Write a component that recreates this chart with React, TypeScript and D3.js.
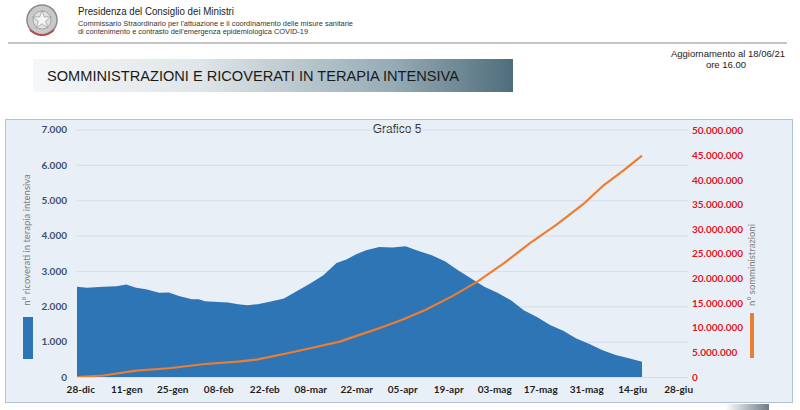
import React, { useEffect, useRef } from 'react';
import * as d3 from 'd3';

// ICU patients (ricoverati in terapia intensiva)
const icuDates = [
  '2020-12-27', '2020-12-30', '2021-01-04', '2021-01-08', '2021-01-11', '2021-01-14', '2021-01-17',
  '2021-01-21', '2021-01-24', '2021-01-27', '2021-01-31', '2021-02-02', '2021-02-04', '2021-02-08',
  '2021-02-11', '2021-02-14', '2021-02-17', '2021-02-20', '2021-02-24', '2021-02-28', '2021-03-04',
  '2021-03-08', '2021-03-12', '2021-03-16', '2021-03-19', '2021-03-22', '2021-03-25', '2021-03-29',
  '2021-04-02', '2021-04-06', '2021-04-10', '2021-04-14', '2021-04-18', '2021-04-22', '2021-04-26',
  '2021-04-30', '2021-05-04', '2021-05-08', '2021-05-12', '2021-05-16', '2021-05-20', '2021-05-24',
  '2021-05-28', '2021-06-01', '2021-06-05', '2021-06-09', '2021-06-13', '2021-06-17'
];
const icuValues = [
  2555, 2525, 2550, 2570, 2615, 2525, 2485,
  2385, 2390, 2290, 2200, 2200, 2145, 2120,
  2105, 2060, 2030, 2060, 2135, 2220, 2435,
  2645, 2880, 3225, 3320, 3470, 3585, 3680,
  3660, 3700, 3565, 3445, 3275, 3020, 2785,
  2550, 2380, 2175, 1890, 1700, 1470, 1305,
  1090, 930, 760, 620, 527, 432
];

// cumulative vaccine doses (somministrazioni)
const doseDates = [
  '2020-12-27', '2021-01-04', '2021-01-14', '2021-01-24', '2021-02-04', '2021-02-14', '2021-02-20',
  '2021-02-28', '2021-03-08', '2021-03-17', '2021-03-23', '2021-03-29', '2021-04-05', '2021-04-12',
  '2021-04-20', '2021-04-28', '2021-05-06', '2021-05-14', '2021-05-22', '2021-05-30', '2021-06-05',
  '2021-06-11', '2021-06-17'
];
const doseValues = [
  0, 300000, 1280000, 1770000, 2640000, 3110000, 3580000,
  4670000, 5830000, 7170000, 8540000, 9900000, 11600000, 13600000,
  16300000, 19400000, 23100000, 27200000, 30900000, 35000000, 38700000,
  41700000, 44900000
];

const xTickDates = [
  '2020-12-28', '2021-01-11', '2021-01-25', '2021-02-08', '2021-02-22', '2021-03-08', '2021-03-22',
  '2021-04-05', '2021-04-19', '2021-05-03', '2021-05-17', '2021-05-31', '2021-06-14', '2021-06-28'
];
const xTickLabels = [
  '28-dic', '11-gen', '25-gen', '08-feb', '22-feb', '08-mar', '22-mar',
  '05-apr', '19-apr', '03-mag', '17-mag', '31-mag', '14-giu', '28-giu'
];
const leftTicks = [0, 1000, 2000, 3000, 4000, 5000, 6000, 7000];
const rightTicks = [0, 5e6, 10e6, 15e6, 20e6, 25e6, 30e6, 35e6, 40e6, 45e6, 50e6];

const parse = d3.timeParse('%Y-%m-%d');
const itFormat = (v: number) => (v === 0 ? '0' : d3.format(',')(v).replace(/,/g, '.'));

export default function App() {
  const svgRef = useRef<SVGSVGElement>(null);

  useEffect(() => {
    if (!svgRef.current) return;
    const svg = d3.select(svgRef.current);
    svg.selectAll('*').remove();

    const sans = '"Liberation Sans", Arial, sans-serif';
    const axisFont = 'Lato, "Open Sans", sans-serif';

    const defs = svg.append('defs');
    const grad = defs.append('linearGradient').attr('id', 'banner');
    grad.append('stop').attr('offset', '0%').attr('stop-color', '#f6f7f8');
    grad.append('stop').attr('offset', '35%').attr('stop-color', '#dfe5e8');
    grad.append('stop').attr('offset', '75%').attr('stop-color', '#96abb5');
    grad.append('stop').attr('offset', '100%').attr('stop-color', '#4f6d7b');
    const grad2 = defs.append('linearGradient').attr('id', 'foot');
    grad2.append('stop').attr('offset', '0%').attr('stop-color', '#ffffff');
    grad2.append('stop').attr('offset', '100%').attr('stop-color', '#6d7c86');

    svg.append('rect').attr('width', 800).attr('height', 410).attr('fill', '#ffffff');

    // Header: emblem
    const emb = svg.append('g').attr('transform', 'translate(42,20)');
    emb.append('circle').attr('r', 15).attr('fill', '#c9c9c9').attr('stroke', '#8a8a8a').attr('stroke-width', 1.5);
    emb.append('circle').attr('r', 9).attr('fill', '#e2e2e2').attr('stroke', '#999').attr('stroke-width', 0.8);
    emb.append('path').attr('d', d3.symbol(d3.symbolStar, 110)()).attr('fill', '#f4f4f4').attr('stroke', '#888').attr('stroke-width', 0.6);
    emb.append('path').attr('d', 'M-12,10 Q0,20 12,10').attr('fill', 'none').attr('stroke', '#b05050').attr('stroke-width', 2);

    svg.append('text').attr('x', 78).attr('y', 15).style('font-family', sans).style('font-size', '10.5px')
      .attr('fill', '#222').attr('textLength', 156).attr('lengthAdjust', 'spacingAndGlyphs')
      .text('Presidenza del Consiglio dei Ministri');
    svg.append('text').attr('x', 78).attr('y', 26).style('font-family', sans).style('font-size', '7.4px')
      .attr('fill', '#333').attr('textLength', 275).attr('lengthAdjust', 'spacingAndGlyphs')
      .text("Commissario Straordinario  per l'attuazione e il coordinamento delle misure sanitarie");
    svg.append('text').attr('x', 78).attr('y', 34).style('font-family', sans).style('font-size', '7.4px')
      .attr('fill', '#333').attr('textLength', 230).attr('lengthAdjust', 'spacingAndGlyphs')
      .text("di contenimento e contrasto dell'emergenza epidemiologica COVID-19");
    svg.append('line').attr('x1', 8).attr('x2', 787).attr('y1', 43).attr('y2', 43)
      .attr('stroke', '#8c8c8c').attr('stroke-width', 1);

    svg.append('text').attr('x', 785).attr('y', 57).attr('text-anchor', 'end').style('font-family', sans)
      .style('font-size', '9.5px').attr('fill', '#222').text('Aggiornamento al 18/06/21');
    svg.append('text').attr('x', 726).attr('y', 68).attr('text-anchor', 'middle').style('font-family', sans)
      .style('font-size', '9.5px').attr('fill', '#222').text('ore 16.00');

    // Banner
    svg.append('rect').attr('x', 33).attr('y', 59).attr('width', 480).attr('height', 33).attr('fill', 'url(#banner)');
    svg.append('text').attr('x', 47).attr('y', 81).style('font-family', sans).style('font-size', '14.6px')
      .attr('fill', '#1a1a1a').text('SOMMINISTRAZIONI E RICOVERATI IN TERAPIA INTENSIVA');

    // Chart box
    svg.append('rect').attr('x', 5.5).attr('y', 119.5).attr('width', 787).attr('height', 283)
      .attr('fill', '#e9eff6').attr('stroke', '#b3c2d1').attr('stroke-width', 1);
    svg.append('rect').attr('x', 725).attr('y', 404).attr('width', 44).attr('height', 6).attr('fill', 'url(#foot)');

    svg.append('text').attr('x', 397).attr('y', 133).attr('text-anchor', 'middle').style('font-family', sans)
      .style('font-size', '12px').attr('fill', '#333').text('Grafico 5');

    // Scales
    const x = d3.scaleTime()
      .domain([parse('2020-12-27')!, parse('2021-07-01')!])
      .range([77, 688]);
    const yL = d3.scaleLinear().domain([0, 7000]).range([377, 129.5]);
    const yR = d3.scaleLinear().domain([0, 50e6]).range([377, 130.5]);

    // Grid
    svg.append('g')
      .attr('transform', 'translate(77,0)')
      .call(d3.axisLeft(yL).tickValues(leftTicks.slice(1)).tickSize(-611).tickFormat(() => ''))
      .call(g => g.select('.domain').remove())
      .call(g => g.selectAll('line').attr('stroke', '#d6dee8').attr('stroke-width', 1));

    // Area
    const icu = icuDates.map((d, i) => ({ date: parse(d)!, value: icuValues[i] }));
    const area = d3.area<{ date: Date; value: number }>()
      .x(d => x(d.date))
      .y0(yL(0))
      .y1(d => yL(d.value));
    svg.append('path').datum(icu).attr('d', area).attr('fill', '#2e75b6');

    // Line
    const doses = doseDates.map((d, i) => ({ date: parse(d)!, value: doseValues[i] }));
    const line = d3.line<{ date: Date; value: number }>()
      .x(d => x(d.date))
      .y(d => yR(d.value));
    svg.append('path').datum(doses).attr('d', line).attr('fill', 'none')
      .attr('stroke', '#ed7d31').attr('stroke-width', 2.2).attr('stroke-linejoin', 'round');

    // Baseline
    svg.append('line').attr('x1', 77).attr('x2', 688).attr('y1', 377.5).attr('y2', 377.5)
      .attr('stroke', '#d6dee8').attr('stroke-width', 1);

    // Left axis
    const left = svg.append('g')
      .attr('transform', 'translate(67,0)')
      .call(d3.axisLeft(yL).tickValues(leftTicks).tickSize(0).tickPadding(0).tickFormat(d => itFormat(+d)));
    left.select('.domain').remove();
    left.selectAll('text').style('font-family', axisFont).style('font-size', '10px')
      .style('font-weight', '700').attr('fill', '#3f5070');

    // Right axis
    const right = svg.append('g')
      .attr('transform', 'translate(692,0)')
      .call(d3.axisRight(yR).tickValues(rightTicks).tickSize(0).tickPadding(0).tickFormat(d => itFormat(+d)));
    right.select('.domain').remove();
    right.selectAll('text').style('font-family', axisFont).style('font-size', '10px')
      .style('font-weight', '700').attr('fill', '#e0141e');

    // X axis
    const bottom = svg.append('g')
      .attr('transform', 'translate(0,382)')
      .call(d3.axisBottom(x).tickValues(xTickDates.map(d => parse(d)!)).tickSize(0).tickPadding(4)
        .tickFormat((_d, i) => xTickLabels[i]));
    bottom.select('.domain').remove();
    bottom.selectAll('text').style('font-family', axisFont).style('font-size', '10px')
      .style('font-weight', '700').attr('fill', '#1e1e1e');

    // Axis titles + legend swatches
    svg.append('text').attr('transform', 'translate(30,240) rotate(-90)').attr('text-anchor', 'middle')
      .style('font-family', axisFont).style('font-size', '9.5px').attr('fill', '#7a7a7a')
      .text('n° ricoverati in terapia intensiva');
    svg.append('rect').attr('x', 23).attr('y', 317).attr('width', 10).attr('height', 42).attr('fill', '#2e75b6');

    svg.append('text').attr('transform', 'translate(755,265) rotate(-90)').attr('text-anchor', 'middle')
      .style('font-family', axisFont).style('font-size', '9.5px').attr('fill', '#7a7a7a')
      .text('n° somministrazioni');
    svg.append('rect').attr('x', 750).attr('y', 313).attr('width', 4).attr('height', 45).attr('fill', '#ed7d31');
  }, []);

  return (
    <div>
      <style>{'body{margin:0}'}</style>
      <svg ref={svgRef} width={800} height={410} />
    </div>
  );
}
